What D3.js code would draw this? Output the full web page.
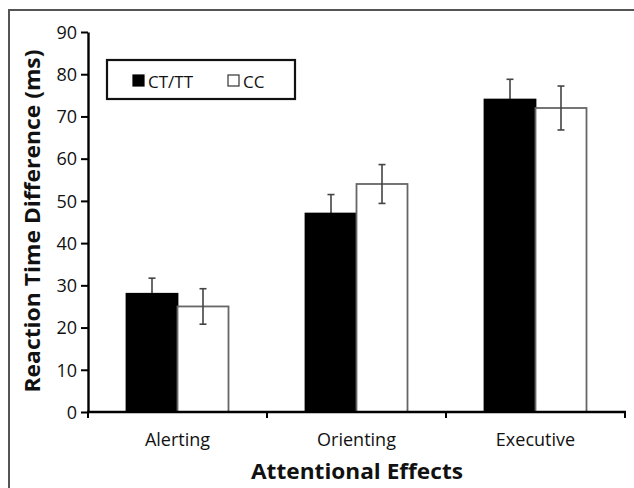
<!DOCTYPE html>
<html><head><meta charset="utf-8">
<script src="https://cdn.jsdelivr.net/npm/d3@7"></script>
<style>body{margin:0;background:#fff}svg{display:block}text{font-family:"Open Sans",Lato,sans-serif}</style>
</head><body>
<svg id="c" width="634" height="488"></svg>
<script>
const categories = ["Alerting", "Orienting", "Executive"];
const seriesNames = ["CT/TT", "CC"];
const ctttValues = [28, 47, 74];
const ccValues = [25, 54, 72];
const ctttErrors = [3.7, 4.5, 4.8];
const ccErrors = [4.2, 4.6, 5.2];
const yTicks = [0, 10, 20, 30, 40, 50, 60, 70, 80, 90];

const svg = d3.select("#c");
const fills = {"CT/TT": "#000", "CC": "#fff"};
const strokes = {"CT/TT": "#000", "CC": "#666"};

// outer frame
svg.append("rect").attr("x", 9).attr("y", 10).attr("width", 640).attr("height", 500)
  .attr("fill", "none").attr("stroke", "#555").attr("stroke-width", 2);

const y = d3.scaleLinear().domain([0, 90]).range([412, 32]);
const x0 = d3.scaleBand().domain(categories).range([88, 625]).paddingInner(0).paddingOuter(0);
const x1 = d3.scaleBand().domain(seriesNames).range([0, x0.bandwidth()]).paddingInner(0).paddingOuter(0.755);

const data = categories.map((c, i) => ({
  cat: c,
  vals: [
    {s: "CT/TT", v: ctttValues[i], e: ctttErrors[i]},
    {s: "CC", v: ccValues[i], e: ccErrors[i]}
  ]
}));

const g = svg.append("g");
const groups = g.selectAll("g.grp").data(data).join("g")
  .attr("transform", d => `translate(${x0(d.cat)},0)`);

function errorBars(sel) {
  const cx = d => x1(d.s) + x1.bandwidth() / 2;
  sel.attr("stroke", "#444").attr("stroke-width", 1.6);
  sel.append("line").attr("x1", cx).attr("x2", cx)
    .attr("y1", d => y(d.v + d.e)).attr("y2", d => y(d.v - d.e));
  sel.append("line").attr("x1", d => cx(d) - 3.5).attr("x2", d => cx(d) + 3.5)
    .attr("y1", d => y(d.v + d.e)).attr("y2", d => y(d.v + d.e));
  sel.append("line").attr("x1", d => cx(d) - 3.5).attr("x2", d => cx(d) + 3.5)
    .attr("y1", d => y(d.v - d.e)).attr("y2", d => y(d.v - d.e));
}

// error bars behind black bars
groups.selectAll("g.ebk").data(d => d.vals.filter(v => v.s === "CT/TT")).join("g").attr("class", "ebk").call(errorBars);

groups.selectAll("rect").data(d => d.vals).join("rect")
  .attr("x", d => x1(d.s))
  .attr("y", d => y(d.v))
  .attr("width", x1.bandwidth())
  .attr("height", d => y(0) - y(d.v))
  .attr("fill", d => fills[d.s])
  .attr("stroke", d => strokes[d.s])
  .attr("stroke-width", 1.8);

// error bars in front of white bars
groups.selectAll("g.ebw").data(d => d.vals.filter(v => v.s === "CC")).join("g").attr("class", "ebw").call(errorBars);

// y axis
const yAxis = d3.axisLeft(y).tickValues(yTicks).tickSize(7).tickSizeOuter(0).tickPadding(4);
const ya = svg.append("g").attr("transform", "translate(88,0)").call(yAxis);
ya.select(".domain").attr("stroke", "#000").attr("stroke-width", 2.4);
ya.selectAll(".tick line").attr("stroke", "#000").attr("stroke-width", 2);
ya.selectAll(".tick text").attr("font-size", 18).attr("fill", "#111").attr("dy", "0.35em")
  .attr("font-family", "'Open Sans', sans-serif");

// x axis
const xa = svg.append("g").attr("transform", "translate(0,412)");
xa.append("line").attr("x1", 87).attr("x2", 626).attr("y1", 0).attr("y2", 0)
  .attr("stroke", "#000").attr("stroke-width", 2.4);
const boundaries = [x0.range()[0]].concat(categories.map(c => x0(c) + x0.bandwidth()));
xa.selectAll("line.tk").data(boundaries).join("line").attr("class", "tk")
  .attr("x1", d => d).attr("x2", d => d).attr("y1", 0).attr("y2", 6)
  .attr("stroke", "#000").attr("stroke-width", 2);
xa.selectAll("text").data(categories).join("text")
  .attr("x", d => x0(d) + x0.bandwidth() / 2).attr("y", 34)
  .attr("text-anchor", "middle").attr("font-size", 18).attr("fill", "#111")
  .text(d => d);

// axis titles
svg.append("text").attr("x", 357).attr("y", 479).attr("text-anchor", "middle")
  .attr("font-size", 22).attr("font-weight", "bold").attr("fill", "#111")
  .attr("textLength", 212).attr("lengthAdjust", "spacingAndGlyphs")
  .text("Attentional Effects");
svg.append("text").attr("transform", "translate(40,221) rotate(-90)").attr("text-anchor", "middle")
  .attr("font-size", 21).attr("font-weight", "bold").attr("fill", "#111")
  .attr("textLength", 343).attr("lengthAdjust", "spacingAndGlyphs")
  .text("Reaction Time Difference (ms)");

// legend
const lg = svg.append("g");
lg.append("rect").attr("x", 107).attr("y", 60).attr("width", 188).attr("height", 39)
  .attr("fill", "#fff").attr("stroke", "#111").attr("stroke-width", 2.2);
const legX = [133, 228];
seriesNames.forEach((s, i) => {
  lg.append("rect").attr("x", legX[i]).attr("y", 75).attr("width", 11).attr("height", 11)
    .attr("fill", fills[s]).attr("stroke", s === "CC" ? "#333" : "#000").attr("stroke-width", 1.2);
  lg.append("text").attr("x", legX[i] + 15).attr("y", 88).attr("font-size", 17).attr("fill", "#111").text(s);
});
</script>
</body></html>
